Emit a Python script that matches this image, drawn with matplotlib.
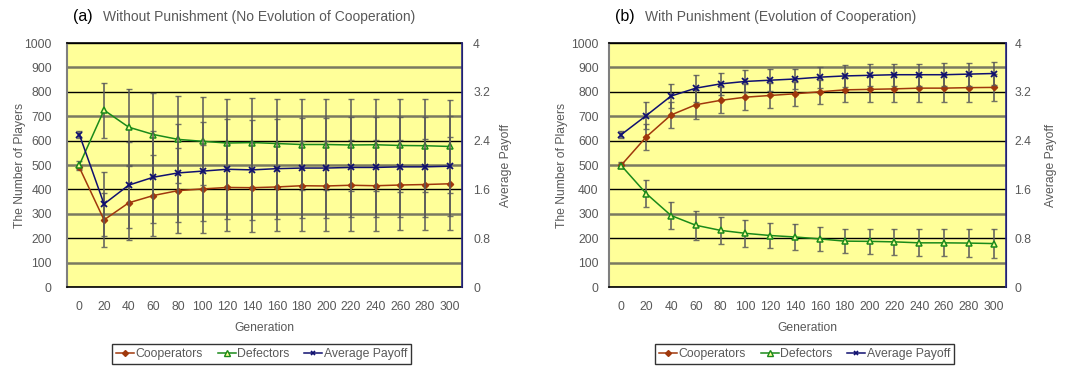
import numpy as np
import matplotlib
matplotlib.use("Agg")
import matplotlib.pyplot as plt
from matplotlib.lines import Line2D

plt.rcParams['font.family'] = ['Liberation Sans', 'DejaVu Sans']

generations = [0, 20, 40, 60, 80, 100, 120, 140, 160, 180, 200, 220, 240, 260, 280, 300]

# (a) without punishment
coop_a = [490, 275, 345, 375, 395, 402, 408, 407, 410, 415, 414, 417, 415, 418, 420, 423]
coop_a_err = [12, 110, 152, 166, 175, 180, 180, 182, 182, 184, 184, 186, 186, 186, 188, 190]
def_a = [500, 725, 655, 625, 605, 597, 590, 592, 588, 584, 584, 582, 583, 580, 579, 576]
def_a_err = [15, 113, 156, 170, 178, 180, 182, 182, 183, 186, 186, 188, 188, 190, 190, 192]
pay_a = [2.50, 1.36, 1.67, 1.80, 1.87, 1.90, 1.93, 1.92, 1.94, 1.95, 1.95, 1.96, 1.96, 1.97, 1.97, 1.98]
pay_a_err = [0.05, 0.52, 0.70, 0.75, 0.80, 0.81, 0.82, 0.82, 0.82, 0.82, 0.82, 0.82, 0.82, 0.82, 0.82, 0.82]

# (b) with punishment
coop_b = [500, 615, 705, 747, 765, 778, 785, 792, 800, 808, 810, 812, 815, 815, 817, 818]
coop_b_err = [12, 55, 55, 60, 53, 53, 53, 50, 48, 50, 53, 55, 55, 55, 57, 57]
def_b = [497, 383, 293, 253, 232, 220, 211, 205, 197, 188, 187, 185, 181, 181, 180, 178]
def_b_err = [10, 57, 55, 60, 55, 55, 53, 52, 48, 50, 52, 53, 55, 55, 57, 58]
pay_b = [2.50, 2.81, 3.13, 3.26, 3.33, 3.37, 3.39, 3.41, 3.44, 3.46, 3.47, 3.48, 3.48, 3.48, 3.49, 3.50]
pay_b_err = [0.05, 0.22, 0.19, 0.22, 0.18, 0.18, 0.18, 0.17, 0.17, 0.18, 0.18, 0.18, 0.18, 0.19, 0.19, 0.19]

panels = [
    ("(a)", "Without Punishment (No Evolution of Cooperation)",
     coop_a, coop_a_err, def_a, def_a_err, pay_a, pay_a_err),
    ("(b)", "With Punishment (Evolution of Cooperation)",
     coop_b, coop_b_err, def_b, def_b_err, pay_b, pay_b_err),
]

C_COOP = "#a0380c"
C_DEF = "#1a8a1a"
C_PAY = "#101070"
C_ERR = "#5a5a5a"
TXT = "#595959"
BG = "#ffff99"

fig = plt.figure(figsize=(10.78, 3.66), dpi=100)
lefts = [67 / 1078, 609 / 1078]
widths = [395 / 1078, 397 / 1078]
lpads = [11, 7.5]     # left tick label padding per panel
rpads = [8, 6]        # right tick label padding per panel
ylpads = [-1, 2]      # "The Number of Players" label padding
y2lpads = [7, 10]     # "Average Payoff" label padding

x = np.arange(len(generations))

for k, (tag, title, coop, coop_err, dfc, dfc_err, pay, pay_err) in enumerate(panels):
    ax = fig.add_axes([lefts[k], 79 / 366, widths[k], 244 / 366])
    ax.set_facecolor(BG)
    ax.set_xlim(-0.5, len(generations) - 0.5)
    ax.set_ylim(0, 1000)
    ax.set_yticks(np.arange(0, 1001, 100))
    ax.set_xticks(x)
    ax.set_xticklabels([str(g) for g in generations])
    ax.grid(axis='y', zorder=0)
    for i, gl in enumerate(ax.get_ygridlines()):
        if i % 2 == 1:
            gl.set_color("#7a7a60")
            gl.set_linewidth(1.8)
        else:
            gl.set_color("black")
            gl.set_linewidth(1.0)
    ax.set_axisbelow(True)
    ax.tick_params(length=0, labelsize=8.7, colors=TXT)
    ax.tick_params(axis='y', pad=lpads[k])
    ax.tick_params(axis='x', pad=10)
    for s in ("top", "bottom"):
        ax.spines[s].set_color("black")
        ax.spines[s].set_linewidth(1.2)
    ax.spines["left"].set_color("#7f7f7f")
    ax.spines["left"].set_linewidth(1.5)
    ax.set_ylabel("The Number of Players", fontsize=8.7, color=TXT, labelpad=ylpads[k])
    ax.set_xlabel("Generation", fontsize=8.7, color=TXT, labelpad=6.5)

    ax.errorbar(x, coop, yerr=coop_err, fmt='none', ecolor=C_ERR, elinewidth=1.3,
                capsize=2, capthick=1, alpha=0.85, zorder=2)
    ax.errorbar(x, dfc, yerr=dfc_err, fmt='none', ecolor=C_ERR, elinewidth=1.3,
                capsize=2, capthick=1, alpha=0.85, zorder=2)
    ax.plot(x, coop, color=C_COOP, lw=1.1, marker='D', ms=3.2, mfc=C_COOP, mec=C_COOP, zorder=4)
    ax.plot(x, dfc, color=C_DEF, lw=1.1, marker='^', ms=4.5, mfc=BG, mec=C_DEF, mew=1.1, zorder=4)

    ax2 = ax.twinx()
    ax2.set_ylim(0, 4)
    ax2.set_yticks([0, 0.8, 1.6, 2.4, 3.2, 4])
    ax2.set_yticklabels(["0", "0.8", "1.6", "2.4", "3.2", "4"])
    ax2.tick_params(length=0, labelsize=8.7, colors=TXT, pad=rpads[k])
    ax2.spines["right"].set_color("#2a2a8a")
    ax2.spines["right"].set_linewidth(1.2)
    ax2.spines["left"].set_visible(False)
    ax2.spines["top"].set_visible(False)
    ax2.spines["bottom"].set_visible(False)
    ax2.set_ylabel("Average Payoff", fontsize=8.7, color=TXT, labelpad=y2lpads[k])
    ax2.errorbar(x, pay, yerr=pay_err, fmt='none', ecolor=C_ERR, elinewidth=1.3,
                 capsize=2, capthick=1, alpha=0.85, zorder=2)
    ax2.plot(x, pay, color=C_PAY, lw=1.1, marker='x', ms=4, mew=1.3, zorder=4)

    xt = lefts[k] + 6 / 1078
    fig.text(xt, 1 - 17 / 366, tag, fontsize=11.5, color="black", va="center")
    fig.text(xt + 30 / 1078, 1 - 17 / 366, title, fontsize=10, color=TXT, va="center")

    handles = [
        Line2D([], [], color=C_COOP, lw=1.1, marker='D', ms=3),
        Line2D([], [], color=C_DEF, lw=1.1, marker='^', ms=4, mfc=BG, mec=C_DEF),
        Line2D([], [], color=C_PAY, lw=1.1, marker='x', ms=3.5, mew=1.2),
    ]
    cx = lefts[k] + widths[k] / 2 - 3 / 1078
    leg = fig.legend(handles, ["Cooperators", "Defectors", "Average Payoff"],
                     loc="center", bbox_to_anchor=(cx, 1 - 354 / 366), ncol=3,
                     fontsize=8.8, frameon=True, fancybox=False, handlelength=1.5,
                     handletextpad=0.1, columnspacing=1.2, borderpad=0.3)
    leg.get_frame().set_edgecolor("black")
    leg.get_frame().set_linewidth(1.0)
    for t in leg.get_texts():
        t.set_color(TXT)

fig.savefig("out.png", dpi=100)
